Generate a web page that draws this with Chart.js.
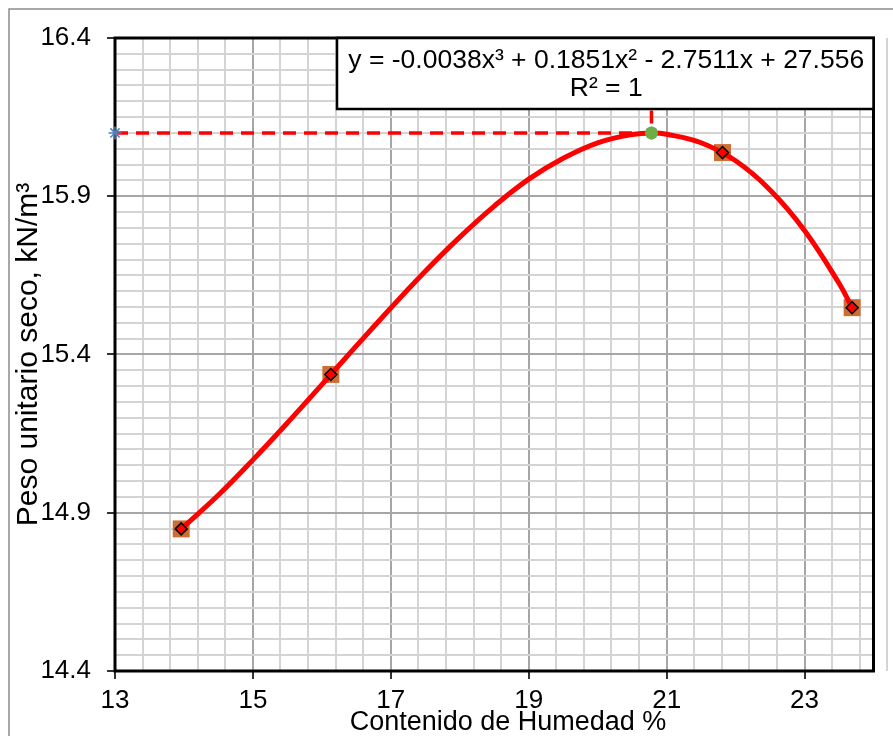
<!DOCTYPE html>
<html>
<head>
<meta charset="utf-8">
<script src="https://cdn.jsdelivr.net/npm/chart.js@4/dist/chart.umd.min.js"></script>
<style>
  html, body { margin: 0; padding: 0; background: #fff; }
  #c { display: block; }
</style>
</head>
<body>
<canvas id="c" width="893" height="736"></canvas>
<script>
// ---- data ----
const humedad   = [13.96, 16.13, 21.81, 23.69];          // % water content (measured points)
const pesoSeco  = [14.849, 15.337, 16.038, 15.548];      // kN/m3 dry unit weight

// red trend curve
const curveX = [13.96, 14.5, 15.0, 15.5, 16.0, 16.5, 17.0, 17.5, 18.0, 18.5, 19.0, 19.5, 20.0, 20.5, 20.8, 21.0, 21.5, 22.0, 22.5, 23.0, 23.5, 23.69];
const curveY = [14.849, 14.956, 15.067, 15.184, 15.305, 15.427, 15.547, 15.663, 15.771, 15.869, 15.954, 16.020, 16.069, 16.095, 16.100, 16.096, 16.069, 16.012, 15.920, 15.792, 15.625, 15.548];

// optimum (max) point and its guide lines
const optimoX = [13.0, 20.78, 20.78];
const optimoY = [16.10, 16.10, 16.40];
const maxX = [20.78];
const maxY = [16.10];

// axis tick labels
const xTickLabels = [13, 15, 17, 19, 21, 23];
const yTickLabels = [14.4, 14.9, 15.4, 15.9, 16.4];

const xTitle = 'Contenido de Humedad %';
const yTitle = 'Peso unitario seco, kN/m³';
const ecuacion = 'y = -0.0038x³ + 0.1851x² - 2.7511x + 27.556';
const r2Text = 'R² = 1';

const FONT = '"Liberation Sans", Arial, Helvetica, sans-serif';
const pts = (xs, ys) => xs.map((x, i) => ({ x: x, y: ys[i] }));
const near = (a, b) => Math.abs(a - b) < 1e-6;

const X_MIN = 13, X_MAX = 24, X_MINOR = 0.4;
const Y_MIN = 14.4, Y_MAX = 16.4, Y_MINOR = 0.05;

const isXMajor = v => xTickLabels.some(t => near(t, v));
const isYMajor = v => yTickLabels.some(t => near(t, v));

const framePlugin = {
  id: 'frame',
  beforeDraw(chart) {
    const ctx = chart.ctx;
    ctx.save();
    ctx.fillStyle = '#fff';
    ctx.fillRect(0, 0, chart.width, chart.height);
    ctx.strokeStyle = '#8c8c8c';
    ctx.lineWidth = 1.5;
    ctx.strokeRect(9, 9, chart.width + 20, chart.height + 20);
    ctx.restore();
  },
  beforeDatasetsDraw(chart) {
    const a = chart.chartArea, ctx = chart.ctx;
    ctx.save();
    ctx.strokeStyle = '#000';
    ctx.lineWidth = 3;
    ctx.strokeRect(a.left, a.top, a.right - a.left, a.bottom - a.top);
    ctx.restore();
  },
  afterDraw(chart) {
    const ctx = chart.ctx;
    const a = chart.chartArea;
    // x axis title
    ctx.save();
    ctx.fillStyle = '#000';
    ctx.font = '27px ' + FONT;
    ctx.textAlign = 'center';
    ctx.textBaseline = 'middle';
    ctx.fillText(xTitle, 508, 723);
    // trendline label box
    const bx = 337, by = a.top, bw = a.right - bx, bh = 71;
    ctx.fillStyle = '#fff';
    ctx.fillRect(bx, by, bw, bh);
    ctx.strokeStyle = '#000';
    ctx.lineWidth = 2.5;
    ctx.strokeRect(bx, by, bw, bh);
    ctx.fillStyle = '#000';
    ctx.font = '26.5px ' + FONT;
    const cx = bx + bw / 2 + 1;
    ctx.fillText(ecuacion, cx, by + 23);
    ctx.fillText(r2Text, cx, by + 51);
    ctx.restore();
  }
};

new Chart(document.getElementById('c'), {
  type: 'scatter',
  data: {
    datasets: [
      {
        label: 'Máximo',
        data: pts(maxX, maxY),
        pointStyle: 'circle',
        pointRadius: 6.5,
        pointBackgroundColor: '#70AD47',
        pointBorderColor: '#70AD47',
        pointBorderWidth: 0,
        clip: false,
        order: 0
      },
      {
        label: 'Óptimo',
        data: pts(optimoX, optimoY),
        showLine: true,
        borderColor: '#FF0000',
        borderWidth: 3.5,
        borderDash: [13, 8],
        pointStyle: 'star',
        pointRadius: [6.5, 6.5, 0],
        pointBorderColor: '#4F81BD',
        pointBackgroundColor: '#4F81BD',
        pointBorderWidth: 1.5,
        tension: 0,
        clip: false,
        order: 1
      },
      {
        label: 'Puntos',
        data: pts(humedad, pesoSeco),
        pointStyle: 'rectRot',
        pointRadius: 6,
        pointBackgroundColor: '#FF0000',
        pointBorderColor: '#000',
        pointBorderWidth: 1.5,
        order: 2
      },
      {
        label: 'Curva',
        data: pts(curveX, curveY),
        showLine: true,
        borderColor: '#FF0000',
        borderWidth: 5,
        pointRadius: 0,
        cubicInterpolationMode: 'default',
        tension: 0.4,
        order: 3
      },
      {
        label: 'Ensayos',
        data: pts(humedad, pesoSeco),
        pointStyle: 'rect',
        pointRadius: 12,
        pointBackgroundColor: '#CE6E32',
        pointBorderColor: '#CE6E32',
        pointBorderWidth: 0,
        clip: false,
        order: 4
      }
    ]
  },
  options: {
    responsive: false,
    devicePixelRatio: 1,
    animation: false,
    events: [],
    layout: { padding: { top: 38, right: 16, bottom: 0, left: 0 } },
    plugins: { legend: { display: false }, tooltip: { enabled: false }, title: { display: false } },
    scales: {
      x: {
        type: 'linear',
        position: 'bottom',
        min: X_MIN, max: X_MAX,
        afterBuildTicks(s) {
          const t = [];
          const n = Math.round((X_MAX - X_MIN) / X_MINOR);
          for (let i = 0; i <= n; i++) t.push({ value: Math.round((X_MIN + i * X_MINOR) * 1000) / 1000 });
          s.ticks = t;
        },
        afterFit(s) { s.height = 65; },
        border: { display: false },
        grid: {
          color: c => isXMajor(c.tick.value) ? '#A6A6A6' : '#D4D4D4',
          lineWidth: 2,
          drawTicks: true,
          tickLength: 8,
          tickWidth: 2,
          tickColor: c => isXMajor(c.tick.value) ? '#333' : 'rgba(0,0,0,0)'
        },
        ticks: {
          autoSkip: false,
          maxRotation: 0,
          minRotation: 0,
          padding: 6,
          color: '#000',
          font: { family: FONT, size: 26 },
          callback: v => isXMajor(v) ? String(xTickLabels.find(t => near(t, v))) : ''
        },
        title: { display: false, text: xTitle }
      },
      y: {
        type: 'linear',
        position: 'left',
        min: Y_MIN, max: Y_MAX,
        afterBuildTicks(s) {
          const t = [];
          const n = Math.round((Y_MAX - Y_MIN) / Y_MINOR);
          for (let i = 0; i <= n; i++) t.push({ value: Math.round((Y_MIN + i * Y_MINOR) * 1000) / 1000 });
          s.ticks = t;
        },
        afterFit(s) { s.width = 115; },
        border: { display: false },
        grid: {
          color: c => isYMajor(c.tick.value) ? '#A6A6A6' : '#D4D4D4',
          lineWidth: 2,
          drawTicks: true,
          tickLength: 8,
          tickWidth: 2,
          tickColor: c => isYMajor(c.tick.value) ? '#333' : 'rgba(0,0,0,0)'
        },
        ticks: {
          autoSkip: false,
          padding: 16,
          color: '#000',
          font: { family: FONT, size: 26 },
          callback: v => isYMajor(v) ? yTickLabels.find(t => near(t, v)).toFixed(1) : ''
        },
        title: {
          display: true,
          text: yTitle,
          color: '#000',
          font: { family: FONT, size: 30, lineHeight: 1 },
          padding: { top: 14, bottom: 0 }
        }
      }
    }
  },
  plugins: [framePlugin]
});
</script>
</body>
</html>
